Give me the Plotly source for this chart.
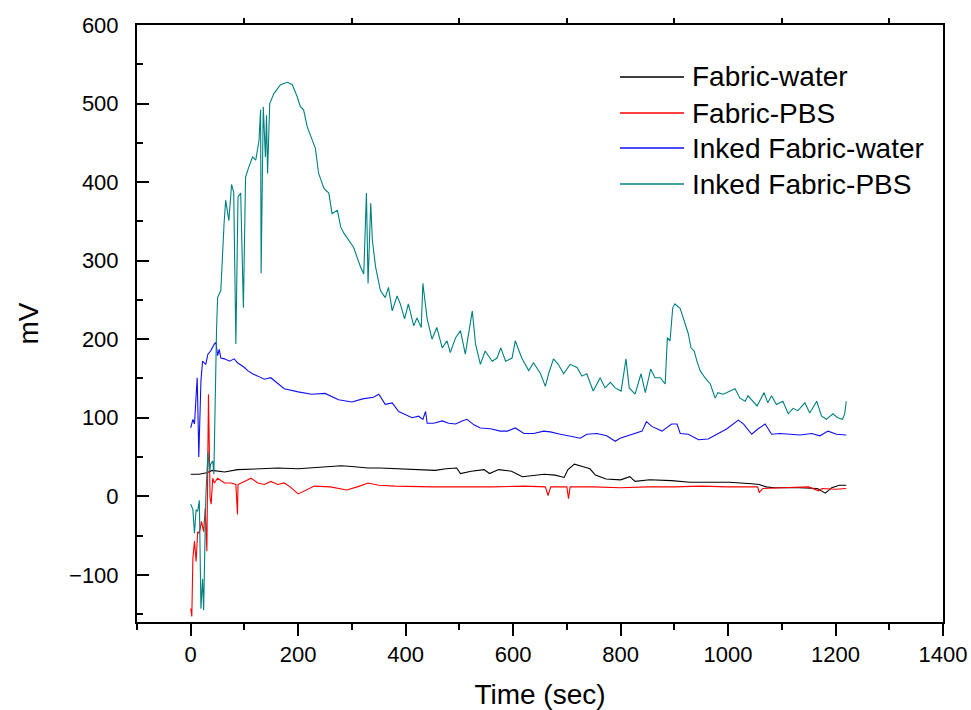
import plotly.graph_objects as go

# ---- data ----
fw_t = [0, 15, 30, 40, 63, 87, 130, 162, 200, 250, 280, 300, 330, 353, 380, 421, 455, 475, 495, 502, 522, 546, 556, 573, 597, 617, 638, 658, 678, 695, 702, 714, 729, 743, 753, 773, 800, 817, 827, 854, 895, 929, 963, 1003, 1044, 1058, 1071, 1085, 1132, 1166, 1181, 1193, 1207, 1220]
fw_v = [28, 28, 30, 33, 31, 34, 35, 36, 35, 37, 39, 38, 36, 36, 35, 34, 33, 35, 36, 29, 32, 34, 29, 34, 32, 25, 27, 28, 27, 24, 34, 41, 38, 35, 27, 22, 21, 25, 19, 21, 20, 18, 18, 18, 16, 15, 12, 11, 11, 10, 4, 11, 14, 14]

fp_t = [0, 2, 4, 7, 10, 13, 16, 20, 24, 27, 30, 32, 33, 36, 38, 41, 44, 50, 63, 75, 84, 87, 88, 100, 112, 125, 137, 149, 162, 174, 185, 200, 215, 230, 260, 290, 310, 330, 350, 380, 450, 500, 560, 620, 660, 665, 670, 700, 703, 706, 750, 800, 850, 900, 950, 1000, 1055, 1058, 1065, 1100, 1150, 1168, 1175, 1200, 1220]
fp_v = [-143, -153, -79, -57, -83, -45, -47, -32, -45, -15, -70, 41, 130, -2, -10, 23, 17, 23, 17, 17, 15, -23, 15, 19, 23, 17, 15, 19, 15, 17, 12, 3, 8, 13, 12, 8, 12, 17, 14, 13, 12, 12, 12, 13, 12, 1, 12, 12, -3, 12, 12, 11, 12, 12, 13, 12, 12, 5, 10, 11, 12, 7, 10, 9, 10]

iw_t = [0, 4, 7, 10, 12, 14, 15, 19, 22, 25, 28, 32, 37, 44, 47, 50, 53, 56, 63, 72, 81, 87, 100, 106, 115, 125, 137, 149, 162, 174, 200, 225, 250, 275, 300, 320, 340, 350, 362, 375, 387, 400, 412, 424, 432, 437, 440, 452, 468, 480, 493, 505, 514, 527, 539, 558, 576, 589, 604, 620, 638, 657, 669, 688, 706, 725, 737, 756, 774, 790, 799, 812, 824, 840, 848, 858, 877, 895, 905, 911, 926, 945, 963, 979, 998, 1019, 1029, 1044, 1056, 1069, 1081, 1097, 1115, 1134, 1156, 1171, 1186, 1202, 1220]
iw_v = [87, 98, 92, 126, 151, 87, 50, 147, 172, 170, 168, 181, 185, 194, 196, 179, 187, 176, 175, 172, 175, 170, 164, 160, 156, 153, 149, 151, 144, 137, 133, 130, 131, 123, 120, 124, 126, 130, 117, 119, 108, 104, 100, 102, 98, 108, 93, 93, 96, 93, 92, 96, 98, 91, 87, 86, 83, 83, 87, 80, 80, 83, 82, 79, 77, 74, 79, 80, 77, 70, 74, 77, 80, 83, 95, 89, 83, 92, 92, 80, 79, 72, 73, 79, 86, 97, 92, 79, 86, 92, 79, 80, 79, 78, 80, 77, 83, 79, 78]

ip_t = [0, 4, 7, 10, 13, 16, 19, 22, 24, 28, 32, 35, 37, 41, 43, 45, 48, 50, 56, 62, 65, 71, 76, 80, 84, 88, 93, 98, 102, 108, 115, 121, 127, 130, 131, 135, 139, 141, 143, 147, 155, 167, 180, 189, 198, 204, 210, 217, 226, 232, 238, 248, 257, 263, 273, 279, 285, 294, 303, 316, 322, 327, 330, 335, 338, 344, 353, 362, 368, 375, 384, 390, 398, 405, 415, 421, 429, 432, 440, 449, 458, 468, 477, 483, 493, 502, 511, 524, 530, 539, 548, 561, 570, 577, 586, 598, 604, 616, 629, 638, 651, 660, 666, 675, 684, 694, 706, 719, 728, 737, 749, 762, 771, 781, 790, 801, 810, 816, 827, 838, 846, 856, 864, 874, 883, 887, 892, 897, 901, 911, 917, 926, 931, 937, 942, 948, 957, 967, 976, 981, 991, 1004, 1013, 1022, 1032, 1037, 1046, 1054, 1067, 1074, 1081, 1090, 1102, 1112, 1121, 1130, 1143, 1152, 1165, 1174, 1183, 1195, 1204, 1213, 1217, 1220]
ip_v = [-10, -17, -47, -17, -19, -5, -143, -105, -145, -2, 57, 32, 41, 45, 28, 126, 211, 253, 262, 347, 377, 351, 397, 387, 194, 381, 386, 240, 406, 419, 432, 428, 453, 492, 284, 496, 432, 485, 411, 500, 513, 524, 527, 524, 509, 496, 492, 470, 453, 443, 411, 392, 386, 360, 364, 343, 335, 326, 317, 292, 283, 386, 271, 373, 326, 292, 262, 253, 266, 236, 255, 245, 226, 245, 217, 227, 215, 271, 226, 200, 215, 189, 198, 183, 202, 211, 181, 236, 194, 168, 185, 172, 176, 189, 172, 176, 198, 176, 160, 170, 156, 140, 156, 175, 168, 156, 168, 164, 153, 156, 134, 151, 138, 145, 138, 134, 175, 138, 130, 156, 132, 162, 151, 151, 143, 202, 198, 240, 245, 239, 226, 207, 189, 185, 172, 160, 151, 143, 125, 132, 130, 134, 137, 125, 121, 128, 121, 115, 132, 119, 128, 117, 121, 105, 112, 109, 119, 106, 121, 102, 98, 105, 100, 98, 105, 121]

names = ["Fabric-water", "Fabric-PBS", "Inked Fabric-water", "Inked Fabric-PBS"]
colors = ["#000000", "#ff0000", "#1010f0", "#008080"]

x_major = [0, 200, 400, 600, 800, 1000, 1200, 1400]
top_ticks = [100, 300, 500, 700, 900, 1100, 1300]
y_major = [-100, 0, 100, 200, 300, 400, 500, 600]

FONT = "Liberation Sans, Arial, sans-serif"

fig = go.Figure()
for i, (t, v) in enumerate([(fw_t, fw_v), (fp_t, fp_v), (iw_t, iw_v), (ip_t, ip_v)]):
    fig.add_trace(go.Scatter(x=t, y=v, mode="lines", name=names[i],
                             line=dict(color=colors[i], width=1.1),
                             showlegend=False))
# empty trace to activate top axis
fig.add_trace(go.Scatter(x=[None], y=[None], xaxis="x2", yaxis="y", showlegend=False))

W, H = 971, 710
L, R, T, B = 137, 943, 25, 622   # plot box in page pixels

def px2paper_x(px):
    return (px - L) / (R - L)
def px2paper_y(py):
    return (B - py) / (B - T)

# manual legend (paper coordinates), matching the reference's compact layout
row_px = [77, 113, 148, 184]
shapes = []
annotations = []
for i, name in enumerate(names):
    yp = px2paper_y(row_px[i])
    shapes.append(dict(type="line", xref="paper", yref="paper",
                       x0=px2paper_x(620), x1=px2paper_x(684), y0=yp, y1=yp,
                       line=dict(color=colors[i], width=1.3)))
    annotations.append(dict(xref="paper", yref="paper", x=px2paper_x(690), y=yp,
                            xanchor="left", yanchor="middle", showarrow=False,
                            text=name, font=dict(size=28, family=FONT, color="black")))

fig.update_layout(
    width=W, height=H,
    margin=dict(l=L, r=W - R, t=T, b=H - B, autoexpand=False),
    paper_bgcolor="white", plot_bgcolor="white",
    font=dict(family=FONT, color="black"),
    showlegend=False,
    shapes=shapes, annotations=annotations,
    xaxis=dict(range=[-100, 1400], tickvals=x_major, ticks="outside", ticklen=12,
               tickwidth=2, tickcolor="black", showline=True, linewidth=2,
               linecolor="black", mirror=True, showgrid=False, zeroline=False,
               automargin=False, ticklabeloverflow="allow",
               tickfont=dict(size=22, family=FONT),
               minor=dict(dtick=100, tick0=0, ticks="outside", ticklen=6, tickwidth=2, tickcolor="black"),
               title=dict(text="Time (sec)", font=dict(size=28, family=FONT), standoff=18)),
    xaxis2=dict(range=[-100, 1400], overlaying="x", side="top", tickvals=top_ticks,
                ticks="outside", ticklen=6, tickwidth=2, tickcolor="black", automargin=False,
                showticklabels=False, showgrid=False, zeroline=False, showline=False),
    yaxis=dict(range=[-160, 600], tickvals=y_major, ticks="inside", ticklen=12,
               tickwidth=2, tickcolor="black", showline=True, linewidth=2,
               linecolor="black", mirror=True, showgrid=False, zeroline=False,
               automargin=False, ticklabeloverflow="allow",
               tickfont=dict(size=22, family=FONT), ticklabelstandoff=12,
               minor=dict(dtick=50, tick0=0, ticks="inside", ticklen=6, tickwidth=2, tickcolor="black"),
               title=dict(text="mV", font=dict(size=28, family=FONT), standoff=22)),
)

fig.write_html("out.html", config={"displayModeBar": False},
               post_script="document.body.style.margin='0px';document.body.style.overflow='hidden';")
